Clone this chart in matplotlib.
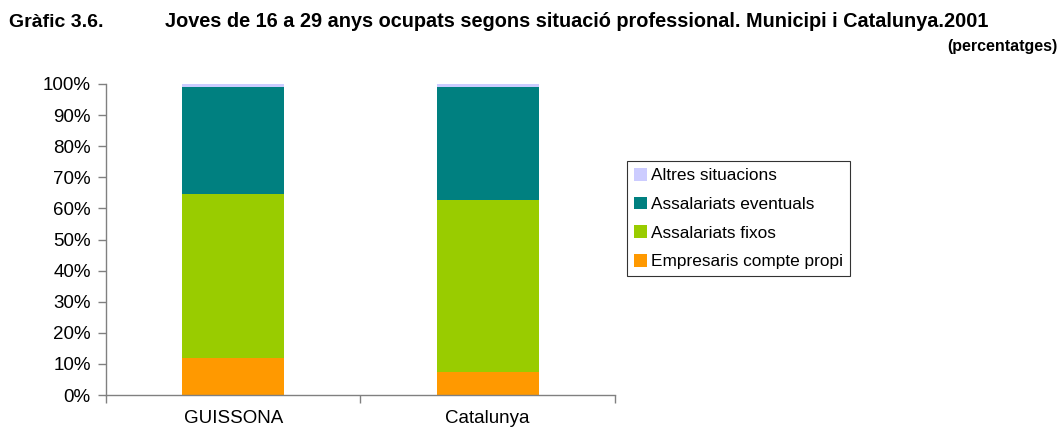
import matplotlib as mpl
import matplotlib.pyplot as plt
import numpy as np

mpl.rcParams.update({
    "font.family": ["Liberation Sans", "DejaVu Sans"],
    "axes.linewidth": 1.0,
})

# --- dades (percentatges) ---
territoris = ["GUISSONA", "Catalunya"]
series = ["Empresaris compte propi", "Assalariats fixos",
          "Assalariats eventuals", "Altres situacions"]
empresaris = [12.0, 7.5]
fixos = [52.6, 55.1]
eventuals = [34.4, 36.4]
altres = [1.0, 1.0]
colors = ["#FF9900", "#99CC00", "#008080", "#CCCCFF"]
y_ticks = [0, 10, 20, 30, 40, 50, 60, 70, 80, 90, 100]

fig = plt.figure(figsize=(10.59, 4.32), dpi=100)
ax = fig.add_axes([106 / 1059, 37 / 432, 509 / 1059, 311 / 432])

x = np.arange(len(territoris))
bottom = np.zeros(len(territoris))
handles = []
for name, vals, col in zip(series, [empresaris, fixos, eventuals, altres], colors):
    b = ax.bar(x, vals, width=0.4, bottom=bottom, color=col, label=name, linewidth=0)
    handles.append(b)
    bottom += np.array(vals)

ax.set_xlim(-0.5, 1.5)
ax.set_ylim(0, 100)
ax.set_yticks(y_ticks)
ax.set_yticklabels([f"{t}%" for t in y_ticks], fontsize=13.5)
ax.set_xticks(x)
ax.set_xticklabels(territoris, fontsize=13.5)
ax.tick_params(axis="x", length=0, pad=11)
ax.set_xticks([-0.5, 0.5, 1.5], minor=True)
ax.tick_params(axis="x", which="minor", length=6, color="#808080", width=1)
ax.tick_params(axis="y", length=6, color="#808080", width=1, pad=5)

for s in ["top", "right"]:
    ax.spines[s].set_visible(False)
for s in ["left", "bottom"]:
    ax.spines[s].set_color("#808080")

leg = fig.legend(handles[::-1], series[::-1], loc="upper left",
                 bbox_to_anchor=(627 / 1059, 1 - 161 / 432),
                 fontsize=12.4, frameon=True, fancybox=False,
                 edgecolor="black", handlelength=0.75, handleheight=0.75,
                 handletextpad=0.25, labelspacing=0.78, borderpad=0.4,
                 borderaxespad=0)
leg.get_frame().set_linewidth(0.8)

fig.text(9 / 1059, 1 - 27 / 432, "Gràfic 3.6.", fontsize=14, fontweight="bold",
         va="baseline", ha="left")
fig.text(165 / 1059, 1 - 27 / 432,
         "Joves de 16 a 29 anys ocupats segons situació professional. Municipi i Catalunya.2001",
         fontsize=14.3, fontweight="bold", va="baseline", ha="left")
fig.text(1057 / 1059, 1 - 46 / 432, "(percentatges)", fontsize=11.5, fontweight="bold",
         va="center", ha="right")

plt.savefig("out.png", dpi=100)
plt.close()
